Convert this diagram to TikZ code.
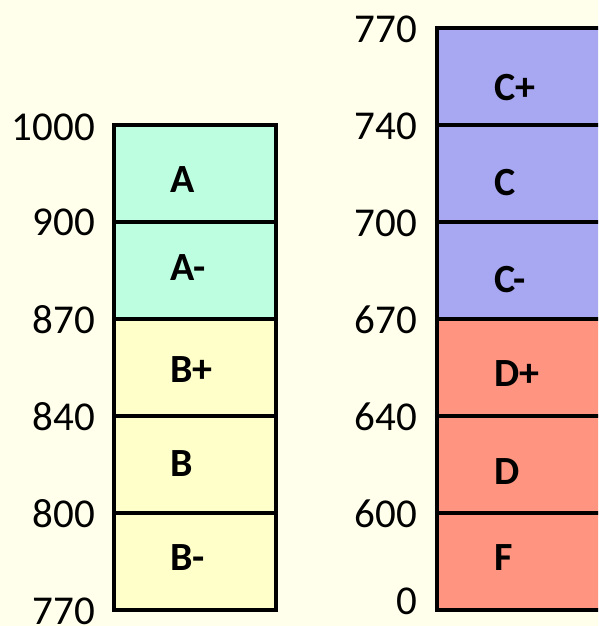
\documentclass[tikz,border=0pt]{standalone}
\usepackage{fontspec}
\setmainfont{Carlito}
\definecolor{paper}{HTML}{FFFFEB}
\definecolor{gradeA}{HTML}{BDFEE0}
\definecolor{gradeB}{HTML}{FFFFCA}
\definecolor{gradeC}{HTML}{A8A8F2}
\definecolor{gradeD}{HTML}{FF9580}
\begin{document}
\begin{tikzpicture}[x=1pt,y=-1pt,
    cut/.style={line width=3.5pt,line cap=round},
    score/.style={anchor=east,inner sep=0pt,font=\fontsize{41}{41}\selectfont},
    grade/.style={anchor=west,inner sep=0pt,font=\bfseries\fontsize{40}{40}\selectfont}]
  \useasboundingbox[fill=paper] (0,0) rectangle (598,626);
  \clip (0,0) rectangle (598,626);

  % Fill the left column
  \fill[gradeA] (114,125) rectangle (276,319);
  \fill[gradeB] (114,319) rectangle (276,610);

  % Fill the right column
  \fill[gradeC] (437,28) rectangle (760,319);
  \fill[gradeD] (437,319) rectangle (760,610);

  % Draw the cell borders
  \draw[cut] (114,125) rectangle (276,610);
  \draw[cut] (437,28) rectangle (760,610);
  \draw[cut] (114,222) -- (276,222);
  \draw[cut] (114,319) -- (276,319);
  \draw[cut] (114,416) -- (276,416);
  \draw[cut] (114,513) -- (276,513);
  \draw[cut] (437,125) -- (760,125);
  \draw[cut] (437,222) -- (760,222);
  \draw[cut] (437,319) -- (760,319);
  \draw[cut] (437,416) -- (760,416);
  \draw[cut] (437,513) -- (760,513);

  % Write the scores of the left column
  \node[score] (l1000) at (95,127) {1000};
  \node[score] (l900) at (95,222) {900};
  \node[score] (l870) at (95,320) {870};
  \node[score] (l840) at (95,417) {840};
  \node[score] (l800) at (95,514) {800};
  \node[score] (l770) at (95,611) {770};

  % Write the scores of the right column
  \node[score] (r770) at (417,29) {770};
  \node[score] (r740) at (417,126) {740};
  \node[score] (r700) at (417,223) {700};
  \node[score] (r670) at (417,320) {670};
  \node[score] (r640) at (417,417) {640};
  \node[score] (r600) at (417,514) {600};
  \node[score] (r0) at (417,601) {0};

  % Write the grades
  \node[grade] (gA) at (170,180) {A};
  \node[grade] (gAm) at (170,268) {A-};
  \node[grade] (gBp) at (170,370) {B+};
  \node[grade] (gB) at (170,464) {B};
  \node[grade] (gBm) at (170,558) {B-};
  \node[grade] (gCp) at (494,88) {C+};
  \node[grade] (gC) at (494,183) {C};
  \node[grade] (gCm) at (494,280) {C-};
  \node[grade] (gDp) at (494,374) {D+};
  \node[grade] (gD) at (494,472) {D};
  \node[grade] (gF) at (494,558) {F};
\end{tikzpicture}
\end{document}
